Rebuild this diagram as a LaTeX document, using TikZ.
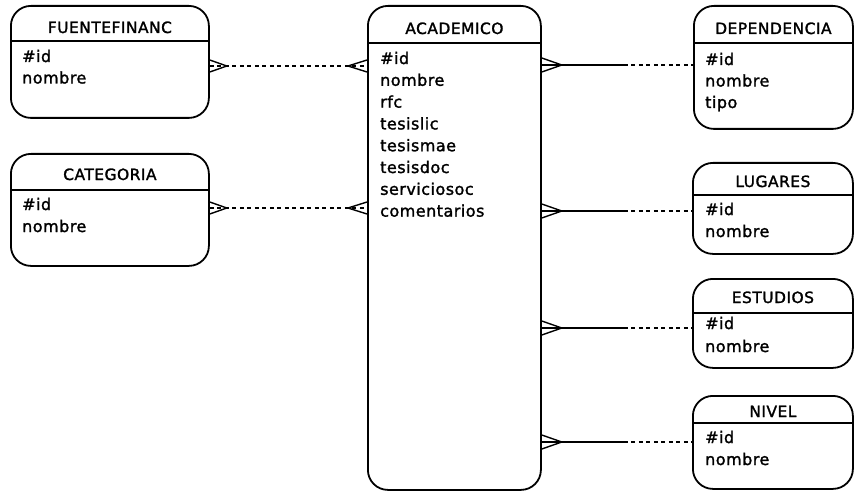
\documentclass[tikz,border=0pt]{standalone}
\usepackage{fontspec}
\newfontfamily\erfont[LetterSpace=3,FakeBold=1.6]{DejaVu Sans}
\tikzset{
  entity/.style={draw, line width=1.8pt, rounded corners=20pt, anchor=north west, inner sep=0pt},
  enttitle/.style={font=\erfont\fontsize{15.5}{18}\selectfont, anchor=base, inner sep=0pt},
  field/.style={font=\erfont\fontsize{16}{18}\selectfont, anchor=base west, inner sep=0pt},
  headsep/.style={line width=1.3pt},
  link/.style={line width=1.4pt},
  optlink/.style={line width=1.4pt, dash pattern=on 4pt off 3.5pt},
}
% box with a title compartment: name, x1, y1, x2, y2, header line y, title, title baseline
\newcommand\erentity[8]{%
  \pgfmathsetmacro\entw{#4-#2}\pgfmathsetmacro\enth{#5-#3}%
  \node[entity, minimum width=\entw pt, minimum height=\enth pt] (#1) at (#2,#3) {};
  \draw[headsep] (#1.west |- 0,#6) -- (#1.east |- 0,#6);
  \node[enttitle] (#1-t) at (#1.north |- 0,#8) {#7};
}
% attribute lines: name, x, first baseline, line step, list
\newcommand\erfields[5]{%
  \foreach \f [count=\i from 0] in {#5} {\node[field] (#1-f\i) at (#2,{#3+\i*#4}) {\f};}
}
% crow's foot toes on the east / west side of a box: node, y, half spread, length
\newcommand\footE[4]{\draw[link] (#1.east |- 0,{#2-#3}) -- ([xshift=#4pt]#1.east |- 0,#2) -- (#1.east |- 0,{#2+#3});}
\newcommand\footW[4]{\draw[link] (#1.west |- 0,{#2-#3}) -- ([xshift=-#4pt]#1.west |- 0,#2) -- (#1.west |- 0,{#2+#3});}
\begin{document}
\begin{tikzpicture}[x=1pt,y=-1pt]
\useasboundingbox (0,0) rectangle (857,492);

% entities
\erentity{fuente}{10}{5}{208}{117}{41}{FUENTEFINANC}{33}
\erfields{fuente}{22}{62}{21.5}{\#id,nombre}

\erentity{categoria}{10}{153}{208}{265}{190}{CATEGORIA}{180}
\erfields{categoria}{22}{210}{22}{\#id,nombre}

\erentity{acad}{367}{5}{540}{489}{43}{ACADEMICO}{34}
\erfields{acad}{380}{64}{21.8}{\#id,nombre,rfc,tesislic,tesismae,tesisdoc,serviciosoc,comentarios}

\erentity{dep}{693}{5}{852}{128}{43}{DEPENDENCIA}{34}
\erfields{dep}{705}{65}{21.5}{\#id,nombre,tipo}

\erentity{lugares}{692}{162}{852}{253}{195}{LUGARES}{187}
\erfields{lugares}{705}{215}{22}{\#id,nombre}

\erentity{estudios}{692}{278}{852}{367}{313}{ESTUDIOS}{303}
\erfields{estudios}{705}{329}{23}{\#id,nombre}

\erentity{nivel}{692}{395}{852}{488}{423}{NIVEL}{417}
\erfields{nivel}{705}{443}{22}{\#id,nombre}

% optional many-to-many links on the left
\draw[optlink] (fuente.east |- 0,66) -- (acad.west |- 0,66);
\footE{fuente}{66}{6}{17}
\footW{acad}{66}{6}{19}
\draw[optlink] (categoria.east |- 0,208) -- (acad.west |- 0,208);
\footE{categoria}{208}{6}{17}
\footW{acad}{208}{6}{19}

% many-to-one links on the right: solid half, dashed half
\foreach \tgt/\yy in {dep/65, lugares/211, estudios/328, nivel/442} {
  \coordinate (\tgt-mid) at ([xshift=82pt]acad.east |- 0,\yy);
  \draw[link] (acad.east |- 0,\yy) -- (\tgt-mid);
  \draw[optlink] (\tgt-mid) -- (\tgt.west |- 0,\yy);
  \footE{acad}{\yy}{7}{20}
}
\end{tikzpicture}
\end{document}
